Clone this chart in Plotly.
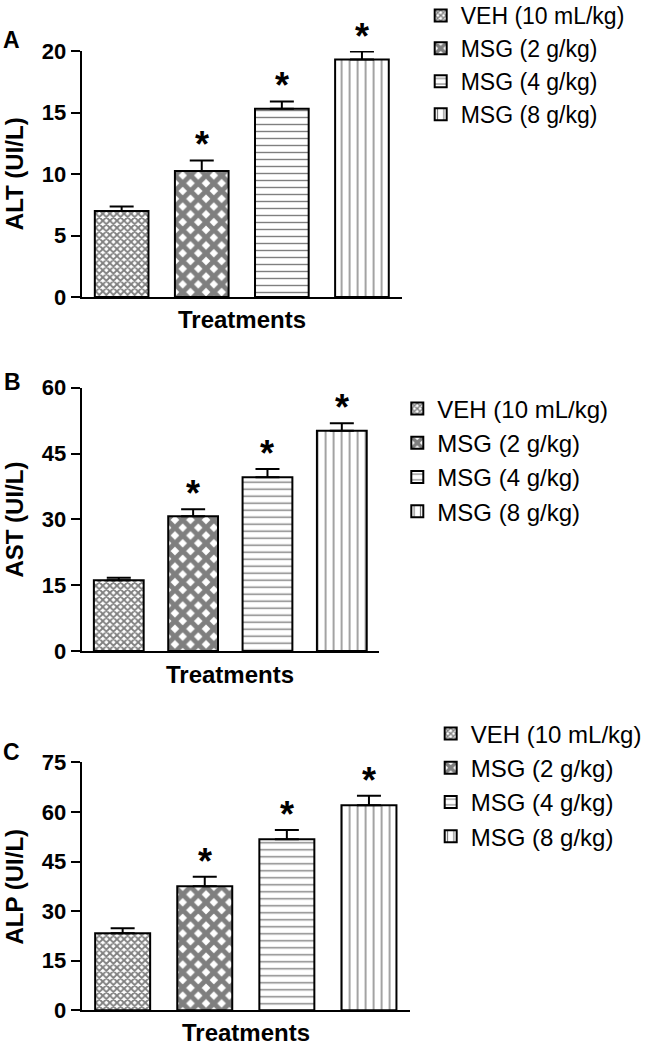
import plotly.graph_objects as go

# ---------------- data ----------------
treatments = ["VEH (10 mL/kg)", "MSG (2 g/kg)", "MSG (4 g/kg)", "MSG (8 g/kg)"]
alt_mean = [7.0, 10.25, 15.3, 19.3]
alt_sem = [0.35, 0.85, 0.6, 0.65]
ast_mean = [16.1, 30.7, 39.6, 50.2]
ast_sem = [0.6, 1.6, 1.9, 1.7]
alp_mean = [23.3, 37.5, 51.7, 62.0]
alp_sem = [1.5, 2.9, 2.8, 2.9]
significant = [False, True, True, True]
panel_letters = ["A", "B", "C"]
y_titles = ["ALT (UI/L)", "AST (UI/L)", "ALP (UI/L)"]
x_title = "Treatments"
y_ranges = [[0, 20], [0, 60], [0, 75]]
y_dticks = [5, 15, 15]

# ---------------- styling ----------------
W, H = 646, 1052
FONT = "Liberation Sans, Arial, Helvetica, sans-serif"
patterns = [
    dict(shape="x", size=5, solidity=0.6),
    dict(shape="x", size=11, solidity=0.7),
    dict(shape="-", size=7, solidity=0.2),
    dict(shape="|", size=8, solidity=0.18),
]

# pixel geometry of the panels (left, right, top, bottom of plot area)
panels_px = [
    (81.6, 402, 51, 297),
    (81.6, 379, 387.7, 651),
    (81.6, 410, 762.3, 1010.3),
]
# legend (left, top) in pixels
legend_px = [(420.7, -6), (397.3, 386.5), (430.7, 711.5)]
legend_font = [23, 24, 24]
letter_px = [(11.5, 40.5), (12.5, 381.5), (11.5, 751.5)]
ytitle_px = [14.2, 14.2, 14.2]
xtitle_dy = [23, 23, 22]


def px2x(p):
    return p / W


def px2y(p):
    return 1 - p / H


means = [alt_mean, ast_mean, alp_mean]
sems = [alt_sem, ast_sem, alp_sem]

fig = go.Figure()
annotations = []

for k in range(3):
    xa = "x" if k == 0 else f"x{k+1}"
    ya = "y" if k == 0 else f"y{k+1}"
    lg = "legend" if k == 0 else f"legend{k+1}"
    for i, name in enumerate(treatments):
        fig.add_trace(go.Bar(
            x=[name], y=[means[k][i]], name=name,
            xaxis=xa, yaxis=ya, legend=lg,
            width=0.67,
            marker=dict(
                color="white",
                line=dict(color="black", width=2),
                pattern=dict(fgcolor="black", bgcolor="white", **patterns[i]),
            ),
            error_y=dict(type="data", symmetric=False,
                         array=[sems[k][i]], arrayminus=[0],
                         color="black", thickness=2, width=12),
        ))
        if significant[i]:
            annotations.append(dict(
                x=name, y=means[k][i] + sems[k][i], xref=xa, yref=ya,
                text="*", showarrow=False, yanchor="bottom", yshift=-7,
                font=dict(family=FONT, size=36, color="black", weight="bold"),
            ))

    l, r, t, b = panels_px[k]
    axis_x = dict(domain=[px2x(l), px2x(r)], anchor=ya, automargin=False,
                  categoryorder="array", categoryarray=treatments,
                  range=[-0.5, 3.5], showline=True, linecolor="black",
                  linewidth=2, ticks="", showticklabels=False,
                  showgrid=False, zeroline=False, fixedrange=True)
    axis_y = dict(domain=[px2y(b), px2y(t)], anchor=xa, automargin=False,
                  range=y_ranges[k], dtick=y_dticks[k], tick0=0,
                  showline=True, linecolor="black", linewidth=2,
                  ticks="outside", ticklen=9, tickwidth=2, tickcolor="black",
                  tickfont=dict(family=FONT, size=22, color="black", weight="bold"),
                  showgrid=False, zeroline=False)
    key = "" if k == 0 else str(k + 1)
    fig.update_layout(**{f"xaxis{key}": axis_x, f"yaxis{key}": axis_y})

    lx, ly = legend_px[k]
    fig.update_layout(**{lg: dict(
        x=px2x(lx), y=px2y(ly), xanchor="left", yanchor="top",
        font=dict(family=FONT, size=legend_font[k], color="black"),
        bgcolor="rgba(0,0,0,0)", itemwidth=30, itemclick=False,
        tracegroupgap=0, borderwidth=0,
    )})

    # panel letter
    annotations.append(dict(
        x=px2x(letter_px[k][0]), y=px2y(letter_px[k][1]), xref="paper", yref="paper",
        text=panel_letters[k], showarrow=False, xanchor="center", yanchor="middle",
        font=dict(family=FONT, size=23, color="black", weight="bold")))
    # y title
    annotations.append(dict(
        x=px2x(ytitle_px[k]), y=px2y((t + b) / 2), xref="paper", yref="paper",
        text=y_titles[k], showarrow=False, textangle=-90,
        xanchor="center", yanchor="middle",
        font=dict(family=FONT, size=24, color="black", weight="bold")))
    # x title
    annotations.append(dict(
        x=px2x((l + r) / 2), y=px2y(b + xtitle_dy[k]), xref="paper", yref="paper",
        text=x_title, showarrow=False, xanchor="center", yanchor="middle",
        font=dict(family=FONT, size=24, color="black", weight="bold")))

fig.update_layout(
    width=W, height=H, autosize=False,
    margin=dict(l=0, r=0, t=0, b=0, autoexpand=False),
    paper_bgcolor="white", plot_bgcolor="white",
    barmode="overlay", showlegend=True,
    annotations=annotations,
    font=dict(family=FONT, color="black"),
)

# remove the browser's default 8px page margin so the figure fills the window
fig.write_html("out.html", config={"displayModeBar": False},
               post_script="document.body.style.margin='0';")
